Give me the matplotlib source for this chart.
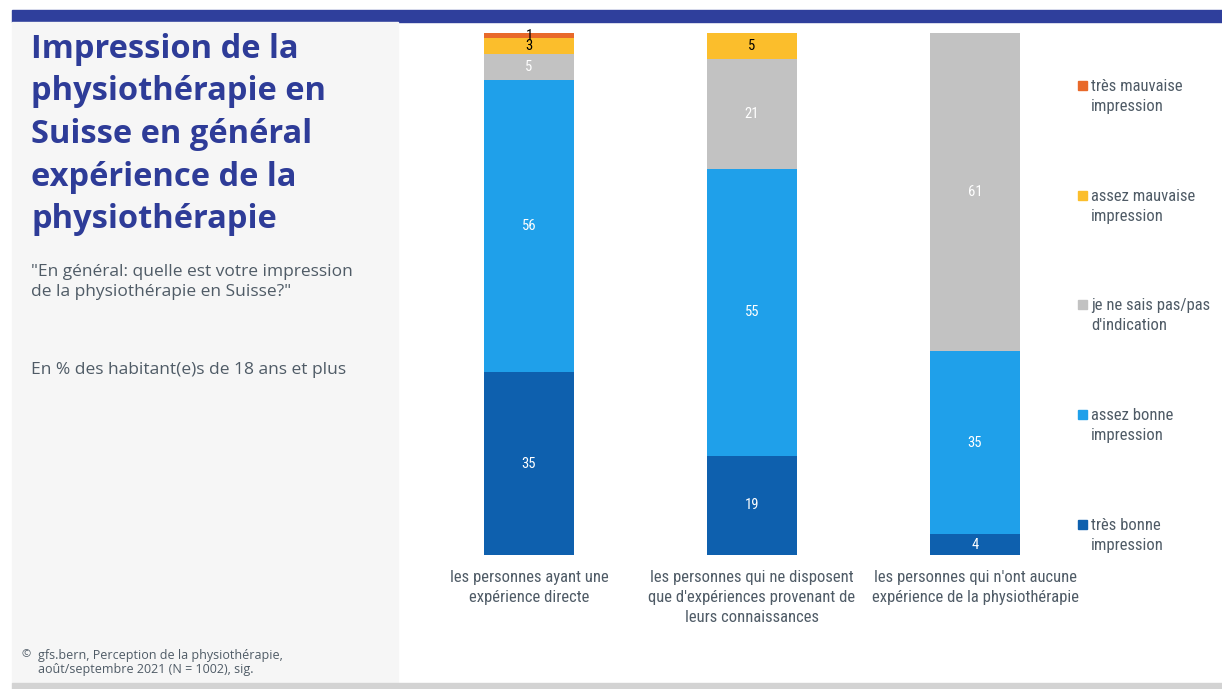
import matplotlib.pyplot as plt
from matplotlib.patches import Rectangle
import numpy as np

plt.rcParams["font.family"] = ["Open Sans", "DejaVu Sans"]
narrow = ["Roboto Condensed", "Liberation Sans Narrow", "DejaVu Sans Condensed", "DejaVu Sans"]

groups = [
    "les personnes ayant une\nexpérience directe",
    "les personnes qui ne disposent\nque d'expériences provenant de\nleurs connaissances",
    "les personnes qui n'ont aucune\nexpérience de la physiothérapie",
]
series = [
    "très bonne\nimpression",
    "assez bonne\nimpression",
    "je ne sais pas/pas\nd'indication",
    "assez mauvaise\nimpression",
    "très mauvaise\nimpression",
]
values = np.array([
    [35, 19, 4],
    [56, 55, 35],
    [5, 21, 61],
    [3, 5, 0],
    [1, 0, 0],
])
colors = ["#0E60AE", "#1FA0EA", "#C2C2C2", "#FBBE2C", "#E8692A"]
text_colors = ["white", "white", "white", "black", "black"]

W, H = 1222, 689
fig = plt.figure(figsize=(W / 100, H / 100), dpi=100)
fig.patch.set_facecolor("white")


def px(x0, y0, w, h):
    return [x0 / W, 1 - (y0 + h) / H, w / W, h / H]


# page frame: blue header band, grey side panel, bottom rule
bg = fig.add_axes([0, 0, 1, 1])
bg.set_xlim(0, W)
bg.set_ylim(H, 0)
bg.axis("off")
bg.add_patch(Rectangle((12, 10), W - 12, 12, color="#2F3F9C"))
bg.add_patch(Rectangle((12, 22), 386, 661, color="#F6F6F6"))
bg.add_patch(Rectangle((12, 683), W - 12, 6, color="#D3D3D3"))

bg.text(31, 33, "Impression de la\nphysiothérapie en\nSuisse en général\nexpérience de la\nphysiothérapie",
        fontsize=23.5, fontweight="bold", color="#2E3C98", va="top", ha="left",
        linespacing=1.38)
bg.text(31, 264, "\"En général: quelle est votre impression\nde la physiothérapie en Suisse?\"",
        fontsize=12.5, color="#4F5B66", va="top", ha="left", linespacing=1.3)
bg.text(31, 362, "En % des habitant(e)s de 18 ans et plus",
        fontsize=12.5, color="#4F5B66", va="top", ha="left")
bg.text(22, 649, "©", fontsize=8, color="#4F5B66", va="top", ha="left")
bg.text(38, 649, "gfs.bern, Perception de la physiothérapie,\naoût/septembre 2021 (N = 1002), sig.",
        fontsize=9, color="#4F5B66", va="top", ha="left", linespacing=1.15)

# stacked bars
ax = fig.add_axes(px(417.5, 33, 669, 522))
ax.set_xlim(-0.5, 2.5)
ax.set_ylim(0, 100)
ax.axis("off")
x = np.arange(len(groups))
bottom = np.zeros(len(groups))
for vals, col, tcol in zip(values, colors, text_colors):
    ax.bar(x, vals, bottom=bottom, width=0.404, color=col, edgecolor="none")
    for xi, v, b in zip(x, vals, bottom):
        if v > 0:
            ax.text(xi, b + v / 2, str(v), ha="center", va="center",
                    fontsize=10.5, color=tcol, family=narrow)
    bottom += vals

for xi, g in zip(x, groups):
    ax.text(xi, -2.8, g, ha="center", va="top", fontsize=12,
            color="#4F5B66", linespacing=1.45, family=narrow)

# legend, top entry = last series
leg_y = [86, 196, 305, 415, 525]
for i, (name, col) in enumerate(zip(series[::-1], colors[::-1])):
    y = leg_y[i]
    bg.add_patch(Rectangle((1078, y - 5), 9, 9, color=col))
    bg.text(1091, y - 7, name, fontsize=12, color="#4F5B66", va="top",
            ha="left", linespacing=1.45, family=narrow)

fig.savefig("out.png", dpi=100)
